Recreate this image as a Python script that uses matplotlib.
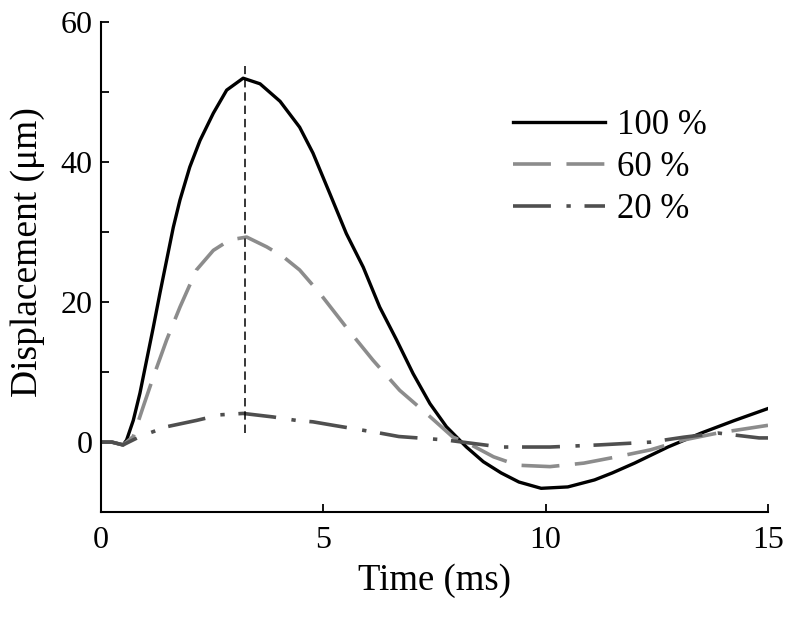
import matplotlib
matplotlib.use("Agg")
import matplotlib.pyplot as plt
from matplotlib.ticker import MultipleLocator

plt.rcParams['font.family'] = ['Liberation Serif', 'DejaVu Serif']

# 100 % stimulus
t100 = [0, 0.25, 0.5, 0.58, 0.73, 0.88, 1.03, 1.18, 1.33, 1.48, 1.63, 1.78, 2.0,
        2.23, 2.53, 2.83, 3.2, 3.58, 4.03, 4.47, 4.77, 5.15, 5.52, 5.9, 6.27,
        6.65, 7.02, 7.4, 7.77, 8.22, 8.6, 9.0, 9.4, 9.9, 10.5, 11.1, 11.5, 12.0,
        12.75, 13.5, 14.25, 15.0]
d100 = [0, 0, -0.4, 0.3, 3.1, 7.0, 11.7, 16.4, 21.3, 26, 30.7, 34.6, 39.3,
        43.1, 47, 50.3, 52, 51.2, 48.7, 45, 41.3, 35.5, 29.8, 25, 19.3,
        14.6, 9.8, 5.5, 2.2, -0.7, -2.8, -4.4, -5.7, -6.6, -6.4, -5.4, -4.4, -3.0,
        -0.7, 1.3, 3.1, 4.8]

# 60 % stimulus
t60 = [0, 0.25, 0.5, 0.73, 0.95, 1.18, 1.48, 1.78, 2.15, 2.53, 2.9, 3.28, 3.73,
       4.1, 4.47, 4.92, 5.52, 6.12, 6.72, 7.32, 7.92, 8.24, 8.83, 9.37, 10.1,
       10.86, 11.6, 12.36, 13.1, 13.87, 15.0]
d60 = [0, 0, -0.4, 0.8, 5, 9.3, 14.6, 19.3, 24.6, 27.4, 28.9, 29.3, 27.9,
       26.5, 24.6, 21.3, 16.4, 11.7, 7.4, 4.1, 0.7, -0.1, -2.1, -3.3, -3.5,
       -3.0, -2.1, -1.1, 0.3, 1.3, 2.4]

# 20 % stimulus
t20 = [0, 0.25, 0.5, 0.88, 1.48, 2.15, 2.68, 3.2, 3.87, 4.4, 4.77, 5.23, 6.27,
       6.7, 7.77, 8.99, 10.1, 11.2, 12.36, 13.1, 13.87, 14.8, 15.0]
d20 = [0, 0, -0.4, 0.8, 2.2, 3.1, 3.9, 4.1, 3.6, 3.1, 2.9, 2.4, 1.3,
       0.8, 0.3, -0.7, -0.7, -0.4, 0.0, 0.7, 1.3, 0.6, 0.6]

t_peak = 3.24
peak_lo, peak_hi = 1.3, 53.8

labels = ['100 %', '60 %', '20 %']

fig = plt.figure(figsize=(8, 6.17), dpi=100)
ax = fig.add_axes([0.126, 0.170, 0.834, 0.794])

ax.plot(t100, d100, color='black', lw=2.4, label=labels[0])
ax.plot(t60, d60, color='#8c8c8c', lw=2.6, dashes=(10.5, 4.3), label=labels[1])
ax.plot(t20, d20, color='#4f4f4f', lw=2.6, dashes=(10.5, 4.3, 1.2, 3.8), label=labels[2])
ax.plot([t_peak, t_peak], [peak_lo, peak_hi], color='black', lw=1.1, dashes=(5.5, 3.2))

ax.set_xlim(0, 15)
ax.set_ylim(-10, 60)
ax.set_xticks([0, 5, 10, 15])
ax.set_yticks([0, 20, 40, 60])
ax.yaxis.set_minor_locator(MultipleLocator(10))
for s in ['top', 'right']:
    ax.spines[s].set_visible(False)
for s in ['left', 'bottom']:
    ax.spines[s].set_linewidth(1.5)
ax.tick_params(which='both', direction='in', length=6, width=1.3, labelsize=23)
ax.tick_params(axis='x', pad=10)
ax.tick_params(axis='y', pad=6)

ax.set_xlabel('Time (ms)', fontsize=26.5, labelpad=6)
ax.set_ylabel('Displacement (μm)', fontsize=27)
ax.yaxis.set_label_coords(-0.084, 0.531)

ax.legend(loc='upper left', bbox_to_anchor=(0.618, 0.822), frameon=False,
          fontsize=25, handlelength=2.65, handletextpad=0.35, labelspacing=0.25,
          borderpad=0, borderaxespad=0)

fig.savefig('out.png', dpi=100)
